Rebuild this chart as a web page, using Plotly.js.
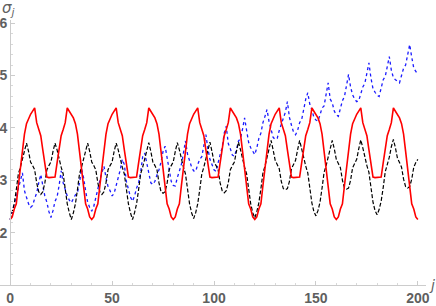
<!DOCTYPE html>
<html>
<head>
<meta charset="utf-8">
<script src="https://cdn.plot.ly/plotly-3.0.1.min.js"></script>
<style>html,body{margin:0;padding:0;background:#fff;}#chart{width:436px;height:306px;}</style>
</head>
<body>
<div id="chart"></div>
<script>
// j = 0..200
var jValues = [];
for (var i = 0; i <= 200; i++) jValues.push(i);

var redValues = [
2.25,2.30,2.45,2.55,2.90,3.22,3.55,3.88,4.08,4.19,4.26,4.32,4.38,4.10,3.97,3.85,3.58,3.33,3.06,3.05,
3.05,3.05,3.06,3.33,3.58,3.85,3.97,4.10,4.38,4.32,4.26,4.19,4.08,3.88,3.55,3.22,2.90,2.55,2.45,2.30,
2.25,2.30,2.45,2.55,2.90,3.22,3.55,3.88,4.08,4.19,4.26,4.32,4.38,4.10,3.97,3.85,3.58,3.33,3.06,3.05,
3.05,3.05,3.06,3.33,3.58,3.85,3.97,4.10,4.38,4.32,4.26,4.19,4.08,3.88,3.55,3.22,2.90,2.55,2.45,2.30,
2.25,2.30,2.45,2.55,2.90,3.22,3.55,3.88,4.08,4.19,4.26,4.32,4.38,4.10,3.97,3.85,3.58,3.33,3.06,3.05,
3.05,3.05,3.06,3.33,3.58,3.85,3.97,4.10,4.38,4.32,4.26,4.19,4.08,3.88,3.55,3.22,2.90,2.55,2.45,2.30,
2.25,2.30,2.45,2.55,2.90,3.22,3.55,3.88,4.08,4.19,4.26,4.32,4.38,4.10,3.97,3.85,3.58,3.33,3.06,3.05,
3.05,3.05,3.06,3.33,3.58,3.85,3.97,4.10,4.38,4.32,4.26,4.19,4.08,3.88,3.55,3.22,2.90,2.55,2.45,2.30,
2.25,2.30,2.45,2.55,2.90,3.22,3.55,3.88,4.08,4.19,4.26,4.32,4.38,4.10,3.97,3.85,3.58,3.33,3.06,3.05,
3.05,3.05,3.06,3.33,3.58,3.85,3.97,4.10,4.38,4.32,4.26,4.19,4.08,3.88,3.55,3.22,2.90,2.55,2.45,2.30,
2.25
];

var blackValues = [
2.25,2.38,2.55,2.82,3.12,3.25,3.40,3.58,3.71,3.55,3.35,3.28,3.20,2.95,2.78,2.73,2.78,2.95,3.20,3.28,3.35,3.55,3.71,3.58,3.40,3.25,3.12,2.82,2.55,2.38,
2.25,2.38,2.55,2.82,3.12,3.25,3.40,3.58,3.71,3.55,3.35,3.28,3.20,2.95,2.78,2.73,2.78,2.95,3.20,3.28,3.35,3.55,3.71,3.58,3.40,3.25,3.12,2.82,2.55,2.38,
2.25,2.38,2.55,2.82,3.12,3.25,3.40,3.58,3.72,3.55,3.35,3.28,3.20,2.95,2.78,2.75,2.78,2.95,3.20,3.28,3.35,3.55,3.72,3.58,3.40,3.25,3.12,2.82,2.55,2.38,
2.27,2.38,2.55,2.82,3.12,3.25,3.40,3.58,3.73,3.55,3.35,3.28,3.20,2.95,2.80,2.76,2.80,2.95,3.20,3.28,3.35,3.55,3.73,3.58,3.40,3.25,3.12,2.82,2.55,2.38,
2.28,2.40,2.57,2.84,3.14,3.27,3.42,3.60,3.76,3.58,3.38,3.30,3.22,2.98,2.84,2.82,2.84,2.98,3.22,3.30,3.38,3.58,3.76,3.60,3.42,3.27,3.14,2.84,2.57,2.40,
2.32,2.42,2.58,2.85,3.15,3.28,3.43,3.62,3.76,3.60,3.40,3.32,3.24,3.00,2.85,2.83,2.85,3.00,3.24,3.32,3.40,3.60,3.77,3.62,3.43,3.28,3.15,2.85,2.58,2.42,
2.34,2.44,2.60,2.86,3.16,3.30,3.44,3.64,3.78,3.62,3.42,3.34,3.25,3.02,2.88,2.85,2.88,3.02,3.25,3.34,3.40
];

var blueValues = [
2.25,2.40,2.55,2.70,2.82,3.00,3.14,2.80,2.65,2.55,
2.48,2.52,2.65,2.76,2.95,3.11,2.90,2.70,2.58,2.40,
2.29,2.42,2.60,2.68,2.90,3.18,2.95,2.82,2.70,2.62,
2.57,2.65,2.72,2.76,2.95,3.22,3.05,2.80,2.58,2.48,
2.41,2.50,2.68,2.85,3.00,3.15,3.27,3.05,2.88,2.80,
2.70,2.75,2.90,3.02,3.20,3.40,3.30,2.98,2.80,2.68,
2.60,2.70,2.85,2.95,3.15,3.45,3.52,3.32,3.10,2.95,
2.92,2.98,3.10,3.20,3.35,3.55,3.65,3.40,3.15,2.98,
2.90,2.89,3.05,3.18,3.30,3.52,3.75,3.50,3.35,3.25,
3.18,3.17,3.30,3.40,3.45,3.70,3.87,3.60,3.40,3.30,
3.20,3.17,3.35,3.49,3.62,3.90,4.03,3.70,3.60,3.48,
3.46,3.58,3.75,3.80,3.98,4.19,3.95,3.72,3.62,3.55,
3.49,3.62,3.80,3.90,4.10,4.22,4.35,4.12,3.95,3.82,
3.78,3.80,3.95,4.08,4.20,4.30,4.50,4.20,4.05,3.92,
3.87,3.95,4.10,4.16,4.35,4.55,4.67,4.45,4.35,4.20,
4.15,4.13,4.25,4.38,4.42,4.65,4.86,4.55,4.48,4.32,
4.25,4.22,4.38,4.52,4.60,4.85,5.02,4.78,4.63,4.55,
4.50,4.52,4.65,4.78,4.85,5.05,5.24,4.95,4.75,4.68,
4.62,4.60,4.75,4.92,4.98,5.15,5.36,5.10,4.96,4.92,
4.88,4.86,5.00,5.14,5.20,5.40,5.59,5.35,5.14,5.08,
5.02
];

var xTickVals = [0, 50, 100, 150, 200];
var yTickVals = [2, 3, 4, 5, 6];

var tickFont = {family: 'Liberation Sans, Arial, sans-serif', size: 14, color: '#5f5f5f', weight: 'bold'};

var traces = [
  {x: jValues, y: blueValues, type: 'scatter', mode: 'lines',
   line: {color: '#1a1aff', width: 1.3, dash: 'dot'}, hoverinfo: 'skip'},
  {x: jValues, y: blackValues, type: 'scatter', mode: 'lines',
   line: {color: '#000000', width: 1.2, dash: '4px,2px'}, hoverinfo: 'skip'},
  {x: jValues, y: redValues, type: 'scatter', mode: 'lines',
   line: {color: '#ff0000', width: 1.6}, hoverinfo: 'skip'}
];

var layout = {
  width: 436, height: 306,
  margin: {l: 0, r: 10, t: 20, b: 21, pad: 0},
  paper_bgcolor: '#ffffff', plot_bgcolor: '#ffffff',
  showlegend: false,
  xaxis: {
    range: [-5, 204], showgrid: false, zeroline: false,
    showline: true, linecolor: '#cccccc', linewidth: 1,
    ticks: 'inside', ticklen: 4, tickcolor: '#cccccc', tickwidth: 1,
    tickvals: xTickVals, ticktext: xTickVals.map(String),
    tickfont: tickFont,
    minor: {dtick: 10, tick0: 0, ticks: 'inside', ticklen: 2, tickcolor: '#d8d8d8', showgrid: false},
    fixedrange: true
  },
  yaxis: {
    range: [1, 6.06], showgrid: false, zeroline: false,
    anchor: 'free', position: 5 / 209,
    showline: true, linecolor: '#cccccc', linewidth: 1,
    ticks: 'inside', ticklen: 4, tickcolor: '#cccccc', tickwidth: 1,
    tickvals: yTickVals, ticktext: yTickVals.map(String),
    tickfont: tickFont,
    minor: {dtick: 0.2, tick0: 1, ticks: 'inside', ticklen: 2, tickcolor: '#d8d8d8', showgrid: false},
    fixedrange: true
  },
  annotations: [
    {xref: 'paper', yref: 'paper', x: -0.0, y: 1.0, xanchor: 'left', yanchor: 'bottom',
     text: '<i>σ<sub>j</sub></i>', showarrow: false,
     font: {family: 'DejaVu Sans, sans-serif', size: 15, color: '#5f5f5f'}},
    {xref: 'paper', yref: 'paper', x: 1.0, y: 0, xanchor: 'left', yanchor: 'middle', xshift: 1,
     text: '<i>j</i>', showarrow: false,
     font: {family: 'DejaVu Sans, sans-serif', size: 14, color: '#5f5f5f'}}
  ]
};

Plotly.newPlot('chart', traces, layout, {staticPlot: true, displayModeBar: false});
</script>
</body>
</html>
